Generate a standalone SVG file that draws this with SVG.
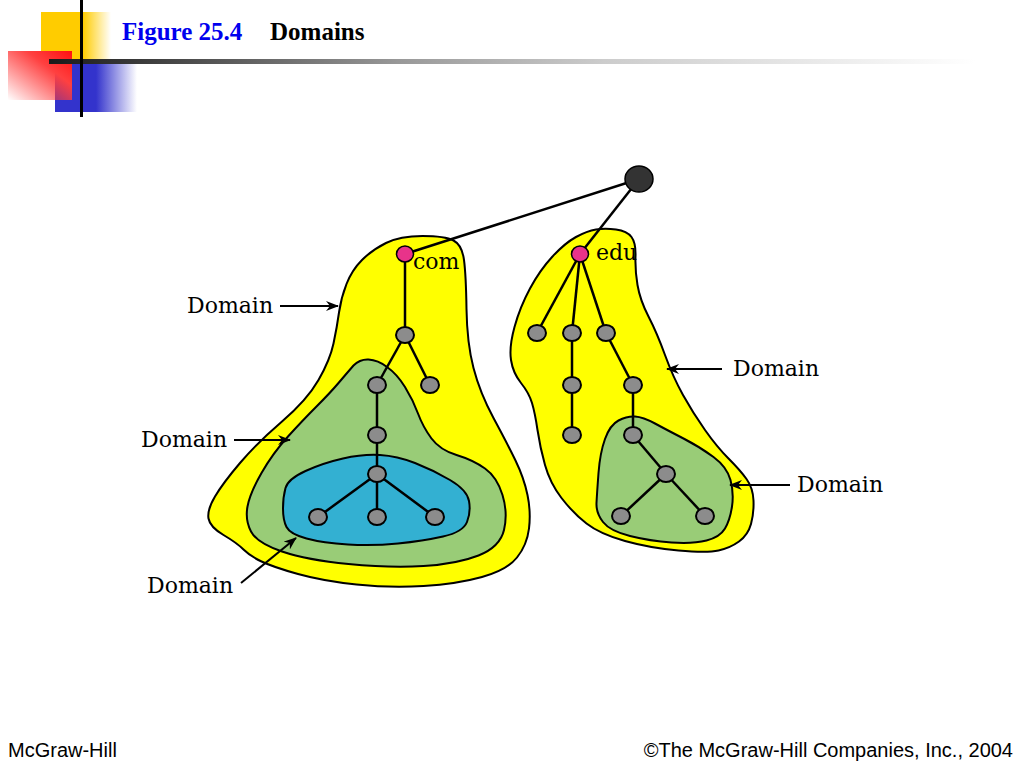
<svg xmlns="http://www.w3.org/2000/svg" width="1024" height="768" viewBox="0 0 1024 768">
<defs>
<style>
.region{stroke:#000;stroke-width:2;stroke-linejoin:round}
.yel{fill:#FFFF00}
.grn{fill:#99CC77}
.blu{fill:#33B0D2}
.edge{stroke:#000;stroke-width:2.5;fill:none}
.node{fill:#8C8C8C;stroke:#000;stroke-width:2}
.top{fill:#E8338A;stroke:#000;stroke-width:1.5}
.lbl{font-family:"DejaVu Serif",serif;font-size:22px;fill:#000}
.ptr{stroke:#000;stroke-width:2;fill:none;marker-end:url(#ah)}
.foot{font-family:"Liberation Sans",Arial,sans-serif;font-size:20px;fill:#000}
</style>
<marker id="ah" markerUnits="userSpaceOnUse" markerWidth="14" markerHeight="10" refX="12" refY="5" orient="auto">
<path d="M0,0 L13,5 L0,10 L4,5 z" fill="#000"/>
</marker>
<linearGradient id="gy" x1="0" y1="0" x2="1" y2="0">
<stop offset="0" stop-color="#FFCC00"/><stop offset="0.6" stop-color="#FFCC00"/><stop offset="1" stop-color="#FFCC00" stop-opacity="0"/>
</linearGradient>
<linearGradient id="gb" x1="0" y1="0" x2="1" y2="0">
<stop offset="0" stop-color="#3333CC"/><stop offset="0.5" stop-color="#3333CC"/><stop offset="1" stop-color="#3333CC" stop-opacity="0"/>
</linearGradient>
<linearGradient id="gr" x1="1" y1="0" x2="0" y2="1">
<stop offset="0" stop-color="#FF1010"/><stop offset="0.35" stop-color="#FF4040"/><stop offset="1" stop-color="#FF3030" stop-opacity="0"/>
</linearGradient>
<linearGradient id="gl" gradientUnits="userSpaceOnUse" x1="49" y1="0" x2="975" y2="0">
<stop offset="0" stop-color="#1a1a1a"/><stop offset="0.38" stop-color="#999"/><stop offset="0.6" stop-color="#ccc"/><stop offset="1" stop-color="#fff"/>
</linearGradient>
</defs>
<rect width="1024" height="768" fill="#fff"/>
<g id="decoration">
<rect x="41" y="12" width="70" height="49" fill="url(#gy)"/>
<rect x="55" y="62" width="82" height="50" fill="url(#gb)"/>
<rect x="8" y="51" width="64" height="49" fill="url(#gr)"/>
<rect x="49" y="59" width="930" height="5" fill="url(#gl)"/>
<rect x="80" y="0" width="3" height="117" fill="#000"/>
</g>
<g id="title" font-family="Liberation Serif,'Times New Roman',serif" font-size="25" font-weight="bold">
<text x="122" y="40" fill="#0000EE">Figure 25.4</text>
<text x="270" y="40" fill="#000">Domains</text>
</g>
<g id="regions">
<path id="com-domain" class="region yel" d="M362,260 Q372,250 386,243 Q400,236 422.5,236 Q445,236 453.5,240.5 Q462,245 464,260 Q466,275 466.5,309 Q467,343 473.5,368 Q480,393 493.5,418 Q507,443 515.5,460.5 Q524,478 527.5,495 Q531,512 529,528.5 Q527,545 517,557.5 Q507,570 482,577 Q457,584 423.5,586 Q390,588 356.5,584.5 Q323,581 298,574 Q273,567 261.5,561.5 Q250,556 243.5,549.5 Q237,543 223.5,535 Q210,527 208.5,518.5 Q207,510 215,496.5 Q223,483 240,463 Q257,443 282,421.5 Q307,400 318.5,380 Q330,360 333.5,343.5 Q337,327 339,312.5 Q341,298 346.5,284 Q352,270 362,260 Z"/>
<path id="com-sub-domain" class="region grn" d="M353.5,365.5 Q360,359 368.5,359.5 Q378,360 387,367 Q397,374 405,387 Q413,400 418,413.5 Q423,427 431.5,438.5 Q440,450 456.5,455 Q473,460 485,468.5 Q497,477 502.5,495 Q508,513 504,530 Q500,547 478.5,555.5 Q457,564 423.5,566 Q390,568 348.5,564 Q307,560 282,551.5 Q257,543 251,531.5 Q245,520 247.5,506.5 Q250,493 261.5,473 Q273,453 288,436.5 Q303,420 316.5,406.5 Q330,393 338.5,383 Q347,373 353.5,365.5 Z"/>
<path id="com-sub-sub-domain" class="region blu" d="M305.5,471 Q323,463 343,458.5 Q363,454 380,455 Q397,456 415,463 Q433,470 450,480 Q467,490 469,501 Q471,512 467,522 Q463,532 443,536.5 Q423,541 398,543.5 Q373,546 348,544.5 Q323,543 306.5,538.5 Q290,534 286.5,527 Q283,520 283,508.5 Q283,497 285.5,488 Q288,479 305.5,471 Z"/>
<path id="edu-domain" class="region yel" d="M576,237 Q587,231 596,229.5 Q605,228 616,229.5 Q627,231 631.5,237 Q636,243 635.5,256.5 Q635,270 637.5,285 Q640,300 648.5,316.5 Q657,333 665,355 Q673,377 683,395 Q693,413 705,430 Q717,447 728.5,458.5 Q740,470 746.5,479 Q753,488 753.5,500.5 Q754,513 751,524 Q748,535 739,541.5 Q730,548 718.5,550.5 Q707,553 678.5,550.5 Q650,548 625,541 Q600,534 586.5,523.5 Q573,513 561.5,498 Q550,483 545,465 Q540,447 537.5,430 Q535,413 532,403 Q529,393 521,383 Q513,373 511,360 Q509,347 514.5,327 Q520,307 530,288.5 Q540,270 552.5,256.5 Q565,243 576,237 Z"/>
<path id="edu-sub-domain" class="region grn" d="M618.5,420.5 Q627,416 635,416.5 Q643,417 655,423.5 Q667,430 683.5,438.5 Q700,447 713.5,457 Q727,467 730.5,480 Q734,493 732,506.5 Q730,520 725,528.5 Q720,537 706.5,540.5 Q693,544 671.5,542.5 Q650,541 630,536 Q610,531 603,522 Q596,513 596.5,503 Q597,493 598.5,473 Q600,453 605,439 Q610,425 618.5,420.5 Z"/>
</g>
<g id="connectors" class="edge">
<line x1="639" y1="179" x2="405" y2="254"/>
<line x1="639" y1="179" x2="580" y2="254"/>
<line x1="405" y1="254" x2="405" y2="335"/>
<line x1="405" y1="335" x2="377" y2="385"/>
<line x1="405" y1="335" x2="430" y2="385"/>
<line x1="377" y1="385" x2="377" y2="474"/>
<line x1="377" y1="474" x2="318" y2="517"/>
<line x1="377" y1="474" x2="377" y2="517"/>
<line x1="377" y1="474" x2="435" y2="517"/>
<line x1="580" y1="254" x2="537" y2="333"/>
<line x1="580" y1="254" x2="572" y2="333"/>
<line x1="580" y1="254" x2="606" y2="333"/>
<line x1="572" y1="333" x2="572" y2="435"/>
<line x1="606" y1="333" x2="633" y2="385"/>
<line x1="633" y1="385" x2="633" y2="435"/>
<line x1="633" y1="435" x2="666" y2="474"/>
<line x1="666" y1="474" x2="621" y2="516"/>
<line x1="666" y1="474" x2="705" y2="516"/>
</g>
<g id="nodes">
<g id="root"><ellipse cx="639" cy="179" rx="14" ry="13" fill="#333" stroke="#000" stroke-width="1.5"/></g>
<g id="com"><ellipse class="top" cx="405" cy="254" rx="8.5" ry="8"/><text class="lbl" x="413" y="269">com</text></g>
<g id="edu"><ellipse class="top" cx="580" cy="254" rx="8.5" ry="8"/><text class="lbl" x="596" y="260">edu</text></g>
<g id="c1"><ellipse class="node" cx="405" cy="335" rx="9" ry="8"/></g>
<g id="c2"><ellipse class="node" cx="377" cy="385" rx="9" ry="8"/></g>
<g id="c3"><ellipse class="node" cx="430" cy="385" rx="9" ry="8"/></g>
<g id="c4"><ellipse class="node" cx="377" cy="435" rx="9" ry="8"/></g>
<g id="c5"><ellipse class="node" cx="377" cy="474" rx="9" ry="8"/></g>
<g id="c6"><ellipse class="node" cx="318" cy="517" rx="9" ry="8"/></g>
<g id="c7"><ellipse class="node" cx="377" cy="517" rx="9" ry="8"/></g>
<g id="c8"><ellipse class="node" cx="435" cy="517" rx="9" ry="8"/></g>
<g id="e1"><ellipse class="node" cx="537" cy="333" rx="9" ry="8"/></g>
<g id="e2"><ellipse class="node" cx="572" cy="333" rx="9" ry="8"/></g>
<g id="e3"><ellipse class="node" cx="606" cy="333" rx="9" ry="8"/></g>
<g id="e4"><ellipse class="node" cx="572" cy="385" rx="9" ry="8"/></g>
<g id="e5"><ellipse class="node" cx="633" cy="385" rx="9" ry="8"/></g>
<g id="e6"><ellipse class="node" cx="572" cy="435" rx="9" ry="8"/></g>
<g id="e7"><ellipse class="node" cx="633" cy="435" rx="9" ry="8"/></g>
<g id="e8"><ellipse class="node" cx="666" cy="474" rx="9" ry="8"/></g>
<g id="e9"><ellipse class="node" cx="621" cy="516" rx="9" ry="8"/></g>
<g id="e10"><ellipse class="node" cx="705" cy="516" rx="9" ry="8"/></g>
</g>
<g id="labels">
<text class="lbl" x="187" y="313">Domain</text>
<text class="lbl" x="141" y="447">Domain</text>
<text class="lbl" x="147" y="593">Domain</text>
<text class="lbl" x="733" y="376">Domain</text>
<text class="lbl" x="797" y="492">Domain</text>
</g>
<g id="pointers">
<line class="ptr" x1="280" y1="306" x2="338" y2="306"/>
<line class="ptr" x1="234" y1="440" x2="290" y2="440"/>
<line class="ptr" x1="241" y1="583" x2="296" y2="538"/>
<line class="ptr" x1="722" y1="369" x2="667" y2="369"/>
<line class="ptr" x1="790" y1="485" x2="730" y2="485"/>
</g>
<g id="footer">
<text class="foot" x="8" y="757">McGraw-Hill</text>
<text class="foot" x="1013" y="757" text-anchor="end">©The McGraw-Hill Companies, Inc., 2004</text>
</g>
</svg>
